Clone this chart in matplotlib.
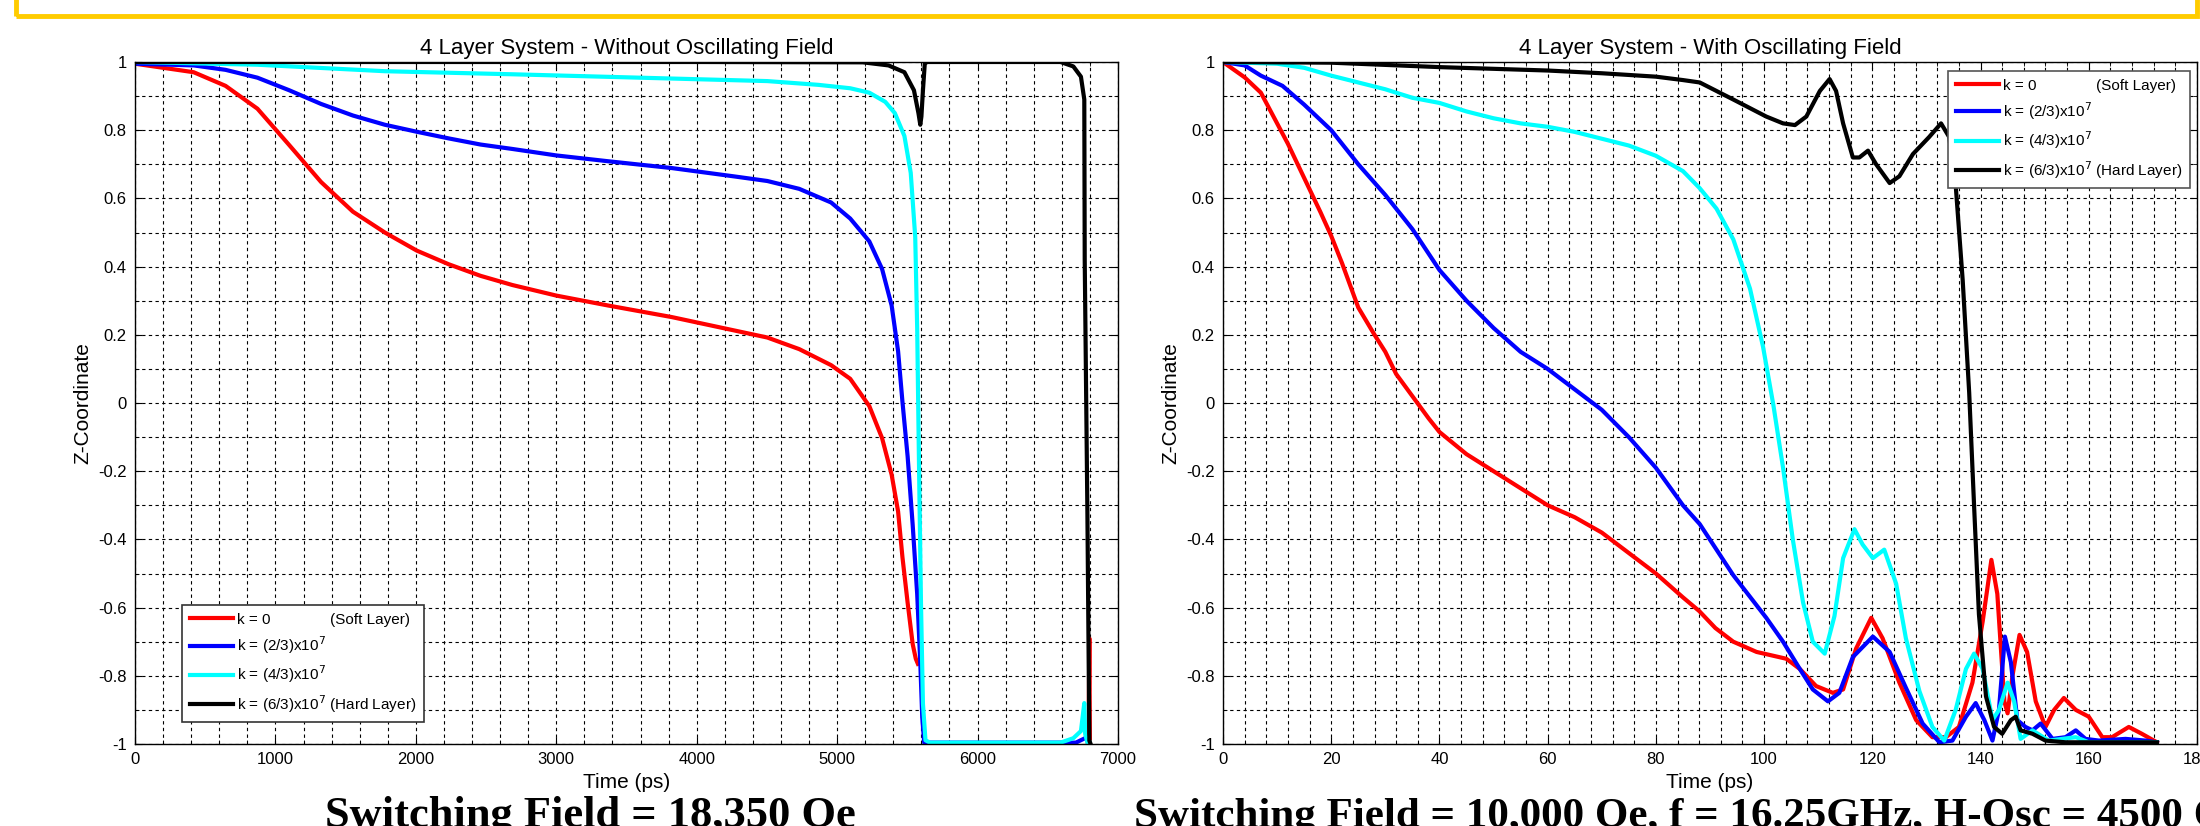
import numpy as np
import matplotlib
matplotlib.use("Agg")
import matplotlib.pyplot as plt
from matplotlib.patches import Rectangle
from matplotlib.ticker import MultipleLocator

plt.rcParams['font.family'] = ['Liberation Sans Narrow', 'Liberation Sans', 'DejaVu Sans']
plt.rcParams['mathtext.fontset'] = 'custom'
plt.rcParams['mathtext.rm'] = 'Liberation Sans Narrow'
plt.rcParams['mathtext.it'] = 'Liberation Sans Narrow:italic'

# ---- data ----
series_labels = ["k = 0" + " " * 14 + "(Soft Layer)",
                 r"k = (2/3)x10$^7$",
                 r"k = (4/3)x10$^7$",
                 r"k = (6/3)x10$^7$ (Hard Layer)"]
series_colors = ["#ff0000", "#0000ff", "#00ffff", "#000000"]

gap = float('nan')  # red line is hidden under the others after ~5575 ps

# left panel: without oscillating field, time in ps
t_red_a = [0, 418, 645, 872, 1099, 1325, 1552, 1779, 2006, 2233, 2460, 2687, 3000, 3368, 3822, 4276,
           4503, 4730, 4957, 5093, 5229, 5320, 5388, 5434, 5465, 5502, 5538, 5560, 5575,
           gap, 6785, 6790, 6796, 6800]
z_red_a = [0.995, 0.97, 0.93, 0.863, 0.756, 0.648, 0.561, 0.50, 0.447, 0.407, 0.373, 0.346, 0.315,
           0.286, 0.252, 0.212, 0.192, 0.158, 0.111, 0.071, -0.009, -0.103, -0.21, -0.318, -0.452,
           -0.586, -0.707, -0.75, -0.765, gap, -1.0, -1.0, -0.69, -1.0]

t_blue_a = [0, 418, 645, 872, 1099, 1325, 1552, 1779, 2000, 2233, 2460, 2687, 3000, 3368, 3822, 4276,
            4503, 4730, 4957, 5093, 5229, 5320, 5388, 5434, 5465, 5502, 5538, 5570, 5592, 5606, 5620,
            6700, 6780, 6796]
z_blue_a = [0.995, 0.99, 0.977, 0.954, 0.917, 0.877, 0.843, 0.816, 0.796, 0.776, 0.758, 0.745, 0.726,
            0.709, 0.689, 0.664, 0.651, 0.628, 0.588, 0.541, 0.474, 0.393, 0.286, 0.152, 0.004, -0.157,
            -0.358, -0.56, -0.761, -0.922, -0.996, -0.996, -0.98, -1.0]

t_cyan_a = [0, 872, 1779, 2687, 3595, 4503, 4866, 5093, 5229, 5343, 5411, 5479, 5524, 5556, 5570,
            5583, 5597, 5611, 5629, 5660, 6591, 6682, 6736, 6760, 6766, 6782, 6800]
z_cyan_a = [1.0, 0.992, 0.973, 0.964, 0.954, 0.944, 0.933, 0.923, 0.91, 0.883, 0.85, 0.783, 0.675,
            0.487, 0.219, -0.184, -0.587, -0.882, -0.989, -0.996, -0.996, -0.983, -0.962, -0.88,
            -0.97, -0.996, -0.996]

t_black_a = [0, 1000, 2000, 3000, 4000, 5184, 5366, 5479, 5547, 5579, 5592, 5600, 5611, 5624, 5640,
             6591, 6682, 6736, 6760, 6763, 6782, 6796, 6805]
z_black_a = [1.0, 1.0, 1.0, 1.0, 1.0, 0.999, 0.99, 0.97, 0.917, 0.85, 0.816, 0.84, 0.917, 0.995, 1.0,
             1.0, 0.987, 0.957, 0.89, 0.42, -0.32, -0.99, -1.0]

# right panel: with oscillating field, time in ps
t_red_b = [0, 4, 7, 10, 12, 15, 18, 20, 22, 25, 28, 30, 32, 35, 38, 40, 45, 50, 55, 60, 65, 70, 75, 80,
           85, 88, 91, 94.3, 98.6, 104.1, 106.6, 109.6, 112.7, 114.6, 117.0, 119.8, 121.9, 125.0, 128.1,
           131.1, 133.6, 136.0, 138.5, 140.4, 142.0, 143.1, 144.4, 145.0, 145.9, 147.2, 148.6, 150.2,
           152.0, 153.6, 155.4, 157.6, 160.0, 162.5, 164.3, 167.4, 169.8, 172.6]
z_red_b = [1.0, 0.955, 0.91, 0.82, 0.76, 0.66, 0.56, 0.49, 0.41, 0.28, 0.20, 0.15, 0.085, 0.02, -0.045,
           -0.085, -0.15, -0.20, -0.25, -0.30, -0.335, -0.38, -0.44, -0.50, -0.57, -0.61, -0.66, -0.70,
           -0.73, -0.75, -0.78, -0.83, -0.85, -0.84, -0.72, -0.63, -0.69, -0.82, -0.93, -0.98, -0.98,
           -0.95, -0.82, -0.64, -0.46, -0.56, -0.875, -0.91, -0.80, -0.68, -0.73, -0.875, -0.95, -0.90,
           -0.865, -0.90, -0.92, -0.98, -0.98, -0.95, -0.97, -0.995]

t_blue_b = [0, 4, 7, 11, 15, 20, 25, 30, 35, 40, 45, 50, 55, 60, 65, 70, 75, 80, 85, 88.1, 94.3, 100.4,
            103.5, 106.6, 109.0, 111.8, 113.9, 116.4, 120.1, 123.2, 126.2, 129.3, 132.4, 134.8, 137.3,
            139.1, 140.7, 142.2, 143.4, 144.5, 145.6, 146.8, 148.3, 149.6, 151.1, 153.3, 155.7, 157.6,
            159.4, 161.9, 166.8, 170.5, 172.6]
z_blue_b = [1.0, 0.99, 0.96, 0.93, 0.875, 0.80, 0.70, 0.61, 0.51, 0.39, 0.30, 0.22, 0.15, 0.10, 0.04,
            -0.02, -0.10, -0.19, -0.30, -0.355, -0.505, -0.63, -0.70, -0.78, -0.84, -0.875, -0.85, -0.745,
            -0.685, -0.73, -0.835, -0.94, -0.995, -0.99, -0.92, -0.88, -0.93, -0.99, -0.90, -0.685, -0.76,
            -0.93, -0.95, -0.96, -0.94, -0.985, -0.98, -0.96, -0.985, -0.99, -0.985, -0.99, -0.995]

t_cyan_b = [0, 10, 15, 20, 25, 30, 35, 40, 45, 50, 55, 60, 65, 70, 75, 80, 85, 88.1, 91.2, 94.3, 97.4,
            99.8, 101.7, 103.5, 105.3, 107.2, 109.0, 111.2, 113.0, 114.6, 116.7, 118.2, 120.1, 122.2,
            124.4, 126.2, 128.7, 131.1, 133.3, 135.4, 137.3, 138.8, 140.4, 142.2, 143.4, 145.0, 146.2,
            147.4, 149.6, 152.6, 157.6, 160.0, 172.6]
z_cyan_b = [1.0, 0.995, 0.983, 0.96, 0.94, 0.92, 0.895, 0.88, 0.855, 0.835, 0.82, 0.81, 0.795, 0.775,
            0.755, 0.725, 0.68, 0.63, 0.57, 0.48, 0.335, 0.165, -0.005, -0.19, -0.40, -0.585, -0.70,
            -0.735, -0.625, -0.455, -0.37, -0.415, -0.455, -0.43, -0.53, -0.69, -0.845, -0.95, -0.99,
            -0.90, -0.78, -0.735, -0.78, -0.93, -0.90, -0.82, -0.875, -0.985, -0.96, -0.99, -0.98,
            -0.995, -0.995]

t_black_b = [0, 20, 40, 60, 70, 80, 85, 88.1, 94.3, 100.4, 103.5, 105.7, 107.8, 110.3, 112.1, 113.3,
             114.6, 116.4, 117.6, 119.2, 120.7, 123.2, 125.0, 127.5, 130.5, 132.7, 134.2, 135.4, 136.7,
             137.9, 138.8, 139.7, 141.0, 142.5, 144.0, 145.6, 146.5, 147.4, 149.6, 152.0, 155.7, 172.6]
z_black_b = [1.0, 0.998, 0.985, 0.975, 0.967, 0.957, 0.947, 0.94, 0.89, 0.84, 0.82, 0.815, 0.84, 0.915,
             0.95, 0.915, 0.82, 0.72, 0.72, 0.74, 0.70, 0.645, 0.665, 0.73, 0.78, 0.82, 0.78, 0.64, 0.36,
             0.03, -0.30, -0.62, -0.86, -0.95, -0.97, -0.93, -0.92, -0.96, -0.97, -0.99, -0.995, -0.995]

y_ticks = [1, 0.8, 0.6, 0.4, 0.2, 0, -0.2, -0.4, -0.6, -0.8, -1]
y_ticklabels = ["1", "0.8", "0.6", "0.4", "0.2", "0", "-0.2", "-0.4", "-0.6", "-0.8", "-1"]

W, H = 2200, 826
fig = plt.figure(figsize=(W / 100, H / 100), dpi=100)


def px_axes(x0, x1, ytop, ybot):
    return fig.add_axes([x0 / W, 1 - ybot / H, (x1 - x0) / W, (ybot - ytop) / H])


def style_axes(ax, xmax, xmajor, xminor):
    ax.set_xlim(0, xmax)
    ax.set_ylim(-1, 1)
    ax.xaxis.set_major_locator(MultipleLocator(xmajor))
    ax.xaxis.set_minor_locator(MultipleLocator(xminor))
    ax.set_yticks(y_ticks)
    ax.set_yticklabels(y_ticklabels)
    ax.yaxis.set_minor_locator(MultipleLocator(0.1))
    ax.grid(True, which='both', color='k', linestyle=(0, (3, 3)), linewidth=0.8)
    ax.tick_params(which='both', direction='in', top=True, right=True, labelsize=12, pad=6)
    ax.tick_params(which='major', length=5)
    ax.tick_params(which='minor', length=3)
    for s in ax.spines.values():
        s.set_linewidth(1.0)
    ax.set_xlabel("Time (ps)", fontsize=15, labelpad=4)
    ax.set_ylabel("Z-Coordinate", fontsize=15, labelpad=4)


def add_legend(ax, loc, anchor, edge):
    leg = ax.legend(loc=loc, bbox_to_anchor=anchor, borderaxespad=0, fontsize=11,
                    fancybox=False, framealpha=1, edgecolor=edge, handlelength=2.8,
                    handletextpad=0.3, borderpad=0.5, labelspacing=0.5)
    leg.get_frame().set_linewidth(1.2)
    return leg


lw = 3.0
ax1 = px_axes(135, 1118, 62, 744)
for t, z, c, lab in zip([t_red_a, t_blue_a, t_cyan_a, t_black_a],
                        [z_red_a, z_blue_a, z_cyan_a, z_black_a], series_colors, series_labels):
    ax1.plot(t, z, color=c, lw=lw, label=lab, solid_joinstyle='round')
style_axes(ax1, 7000, 1000, 200)
ax1.set_title("4 Layer System - Without Oscillating Field", fontsize=16, pad=6)
add_legend(ax1, 'lower left', (0.048, 0.032), '#333333')

ax2 = px_axes(1223, 2197, 62, 744)
for t, z, c, lab in zip([t_red_b, t_blue_b, t_cyan_b, t_black_b],
                        [z_red_b, z_blue_b, z_cyan_b, z_black_b], series_colors, series_labels):
    ax2.plot(t, z, color=c, lw=lw, label=lab, solid_joinstyle='round')
style_axes(ax2, 180, 20, 4)
ax2.set_title("4 Layer System - With Oscillating Field", fontsize=16, pad=6)
add_legend(ax2, 'upper right', (0.993, 0.987), '#555555')

# yellow slide frame at the top
fig.add_artist(Rectangle((16 / W, 1 - 16 / H), (2197 - 16) / W, 40 / H, transform=fig.transFigure,
                         fill=False, edgecolor='#ffcc00', linewidth=3.5))

serif = ['Liberation Serif', 'DejaVu Serif']
fig.text(590 / W, -1 / H, "Switching Field = 18,350 Oe", family=serif, weight='bold', fontsize=32,
         ha='center', va='baseline')
fig.text(1134 / W, -1 / H, "Switching Field = 10,000 Oe, f = 16.25GHz, H-Osc = 4500 Oe",
         family=serif, weight='bold', fontsize=31, ha='left', va='baseline')

fig.savefig("out.png", dpi=100)
